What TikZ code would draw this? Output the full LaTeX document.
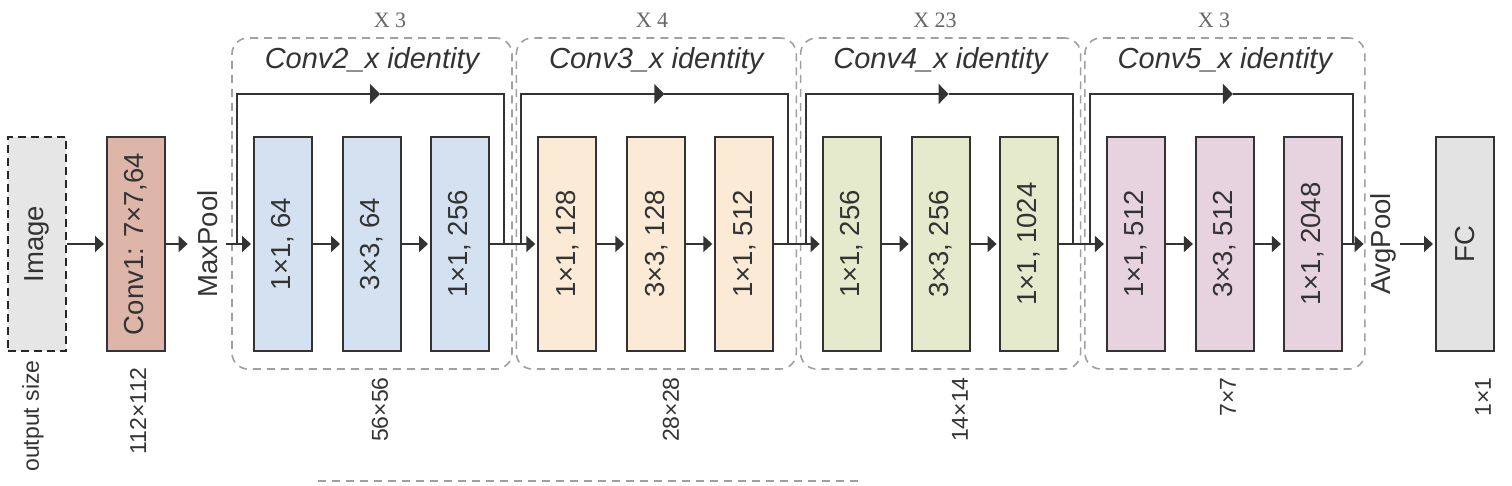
\documentclass[tikz,border=0pt]{standalone}
\usepackage{graphicx}
\usepackage{fontspec}
\setmainfont{Liberation Sans}
\newfontfamily\serifx{Liberation Serif}
\usetikzlibrary{arrows.meta}
\definecolor{cimg}{HTML}{E6E6E6}
\definecolor{cconv}{HTML}{DDB6A9}
\definecolor{cblue}{HTML}{D4E1F1}
\definecolor{ccream}{HTML}{FBEBD6}
\definecolor{cgreen}{HTML}{E5EACC}
\definecolor{cpink}{HTML}{E7D3DF}
\definecolor{cfc}{HTML}{E3E3E3}
\definecolor{cline}{HTML}{333333}
\definecolor{cdash}{HTML}{A0A0A0}
\definecolor{ctext}{HTML}{333333}
\newcommand{\rt}[1]{\rotatebox{90}{#1}}
\tikzset{
  blk/.style={draw=cline, line width=1pt, minimum width=29pt, minimum height=107pt,
    inner sep=0pt, text=ctext, font=\fontsize{13.75pt}{16pt}\selectfont},
  grp/.style={draw=cdash, line width=0.8pt, dash pattern=on 4pt off 3pt,
    rounded corners=8pt, minimum width=140pt, minimum height=165.5pt, inner sep=0pt},
  grpline/.style={draw=cdash, line width=0.8pt, dash pattern=on 4pt off 3pt},
  glabel/.style={text=ctext, font=\fontsize{14.5pt}{17pt}\selectfont\itshape, inner sep=0pt},
  xlabel/.style={text=black!60, font=\serifx\fontsize{11pt}{13pt}\selectfont, inner sep=0pt},
  olabel/.style={text=ctext, font=\fontsize{11.5pt}{13pt}\selectfont, inner sep=0pt, anchor=north},
  pool/.style={text=ctext, font=\fontsize{13.75pt}{16pt}\selectfont, inner sep=0pt, minimum width=18pt},
  conn/.style={draw=cline, line width=1pt, shorten >=1pt, -{Triangle[length=4.5pt,width=8pt]}},
  skipa/.style={draw=cline, line width=0.9pt, -{Triangle[length=5pt,width=10pt]}},
  plain/.style={draw=cline, line width=0.9pt},
}
\begin{document}
\begin{tikzpicture}[x=0.5pt,y=-0.5pt]
\useasboundingbox (0,0) rectangle (1512,486);
% group frames
\node[grp] (g2) at (372,203.5) {};
\node[grp] (g3) at (656.3,203.5) {};
\node[grp] (g4) at (940.6,203.5) {};
\node[grp] (g5) at (1224.9,203.5) {};
\coordinate (d1) at (318,481);
\coordinate (d2) at (860,481);
\draw[grpline] (d1) -- (d2);
% repeat labels
\node[xlabel] (x2) at (390,20) {X 3};
\node[xlabel] (x3) at (652,20) {X 4};
\node[xlabel] (x4) at (935,20) {X 23};
\node[xlabel] (x5) at (1214,20) {X 3};
% group titles
\node[glabel] (l2) at (372,61) {Conv2\_x identity};
\node[glabel] (l3) at (656.3,61) {Conv3\_x identity};
\node[glabel] (l4) at (940.6,61) {Conv4\_x identity};
\node[glabel] (l5) at (1224.9,61) {Conv5\_x identity};
% stem
\node[blk, fill=cimg, draw=black!85, dash pattern=on 4pt off 2.5pt] (img) at (37,244) {\rt{Image}};
\node[blk, fill=cconv] (c1) at (136,244) {\rt{Conv1: 7×7,64}};
\node[pool] (mp) at (208,244) {\rt{MaxPool}};
% conv2
\node[blk, fill=cblue] (b21) at (283,244) {\rt{1×1, 64}};
\node[blk, fill=cblue] (b22) at (372,244) {\rt{3×3, 64}};
\node[blk, fill=cblue] (b23) at (460,244) {\rt{1×1, 256}};
% conv3
\node[blk, fill=ccream] (b31) at (567.3,244) {\rt{1×1, 128}};
\node[blk, fill=ccream] (b32) at (656.3,244) {\rt{3×3, 128}};
\node[blk, fill=ccream] (b33) at (744.3,244) {\rt{1×1, 512}};
% conv4
\node[blk, fill=cgreen] (b41) at (851.6,244) {\rt{1×1, 256}};
\node[blk, fill=cgreen] (b42) at (940.6,244) {\rt{3×3, 256}};
\node[blk, fill=cgreen] (b43) at (1028.6,244) {\rt{1×1, 1024}};
% conv5
\node[blk, fill=cpink] (b51) at (1135.9,244) {\rt{1×1, 512}};
\node[blk, fill=cpink] (b52) at (1224.9,244) {\rt{3×3, 512}};
\node[blk, fill=cpink] (b53) at (1312.9,244) {\rt{1×1, 2048}};
% head
\node[pool, minimum width=17pt] (ap) at (1383,244) {\rt{AvgPool}};
\node[blk, fill=cfc] (fc) at (1465,244) {\rt{FC}};
% output sizes
\node[olabel] (o0) at (33,360) {\rt{output size}};
\node[olabel] (o1) at (138,367) {\rt{112×112}};
\node[olabel] (o2) at (380,377) {\rt{56×56}};
\node[olabel] (o3) at (671,377) {\rt{28×28}};
\node[olabel] (o4) at (960,377) {\rt{14×14}};
\node[olabel] (o5) at (1228,377) {\rt{7×7}};
\node[olabel] (o6) at (1483,377) {\rt{1×1}};
% main chain
\draw[conn] (img) -- (c1);
\draw[conn] (c1) -- (mp);
\draw[conn] (mp) -- (b21);
\draw[conn] (b21) -- (b22);
\draw[conn] (b22) -- (b23);
\draw[conn] (b23) -- (b31);
\draw[conn] (b31) -- (b32);
\draw[conn] (b32) -- (b33);
\draw[conn] (b33) -- (b41);
\draw[conn] (b41) -- (b42);
\draw[conn] (b42) -- (b43);
\draw[conn] (b43) -- (b51);
\draw[conn] (b51) -- (b52);
\draw[conn] (b52) -- (b53);
\draw[conn] (b53) -- (ap);
\draw[conn] (ap) -- (fc);
% skip connections
\coordinate (s2a) at (237,244);   \coordinate (s2t) at (380,94);    \coordinate (s2b) at (504,244);
\coordinate (s3a) at (521.3,244); \coordinate (s3t) at (664.3,94);  \coordinate (s3b) at (788.3,244);
\coordinate (s4a) at (805.6,244); \coordinate (s4t) at (948.6,94);  \coordinate (s4b) at (1072.6,244);
\coordinate (s5a) at (1089.9,244);\coordinate (s5t) at (1232.9,94); \coordinate (s5b) at (1353,244);
\draw[skipa] (s2a) |- (s2t); \draw[plain] (s2t) -| (s2b);
\draw[skipa] (s3a) |- (s3t); \draw[plain] (s3t) -| (s3b);
\draw[skipa] (s4a) |- (s4t); \draw[plain] (s4t) -| (s4b);
\draw[skipa] (s5a) |- (s5t); \draw[plain] (s5t) -| (s5b);
\end{tikzpicture}
\end{document}
